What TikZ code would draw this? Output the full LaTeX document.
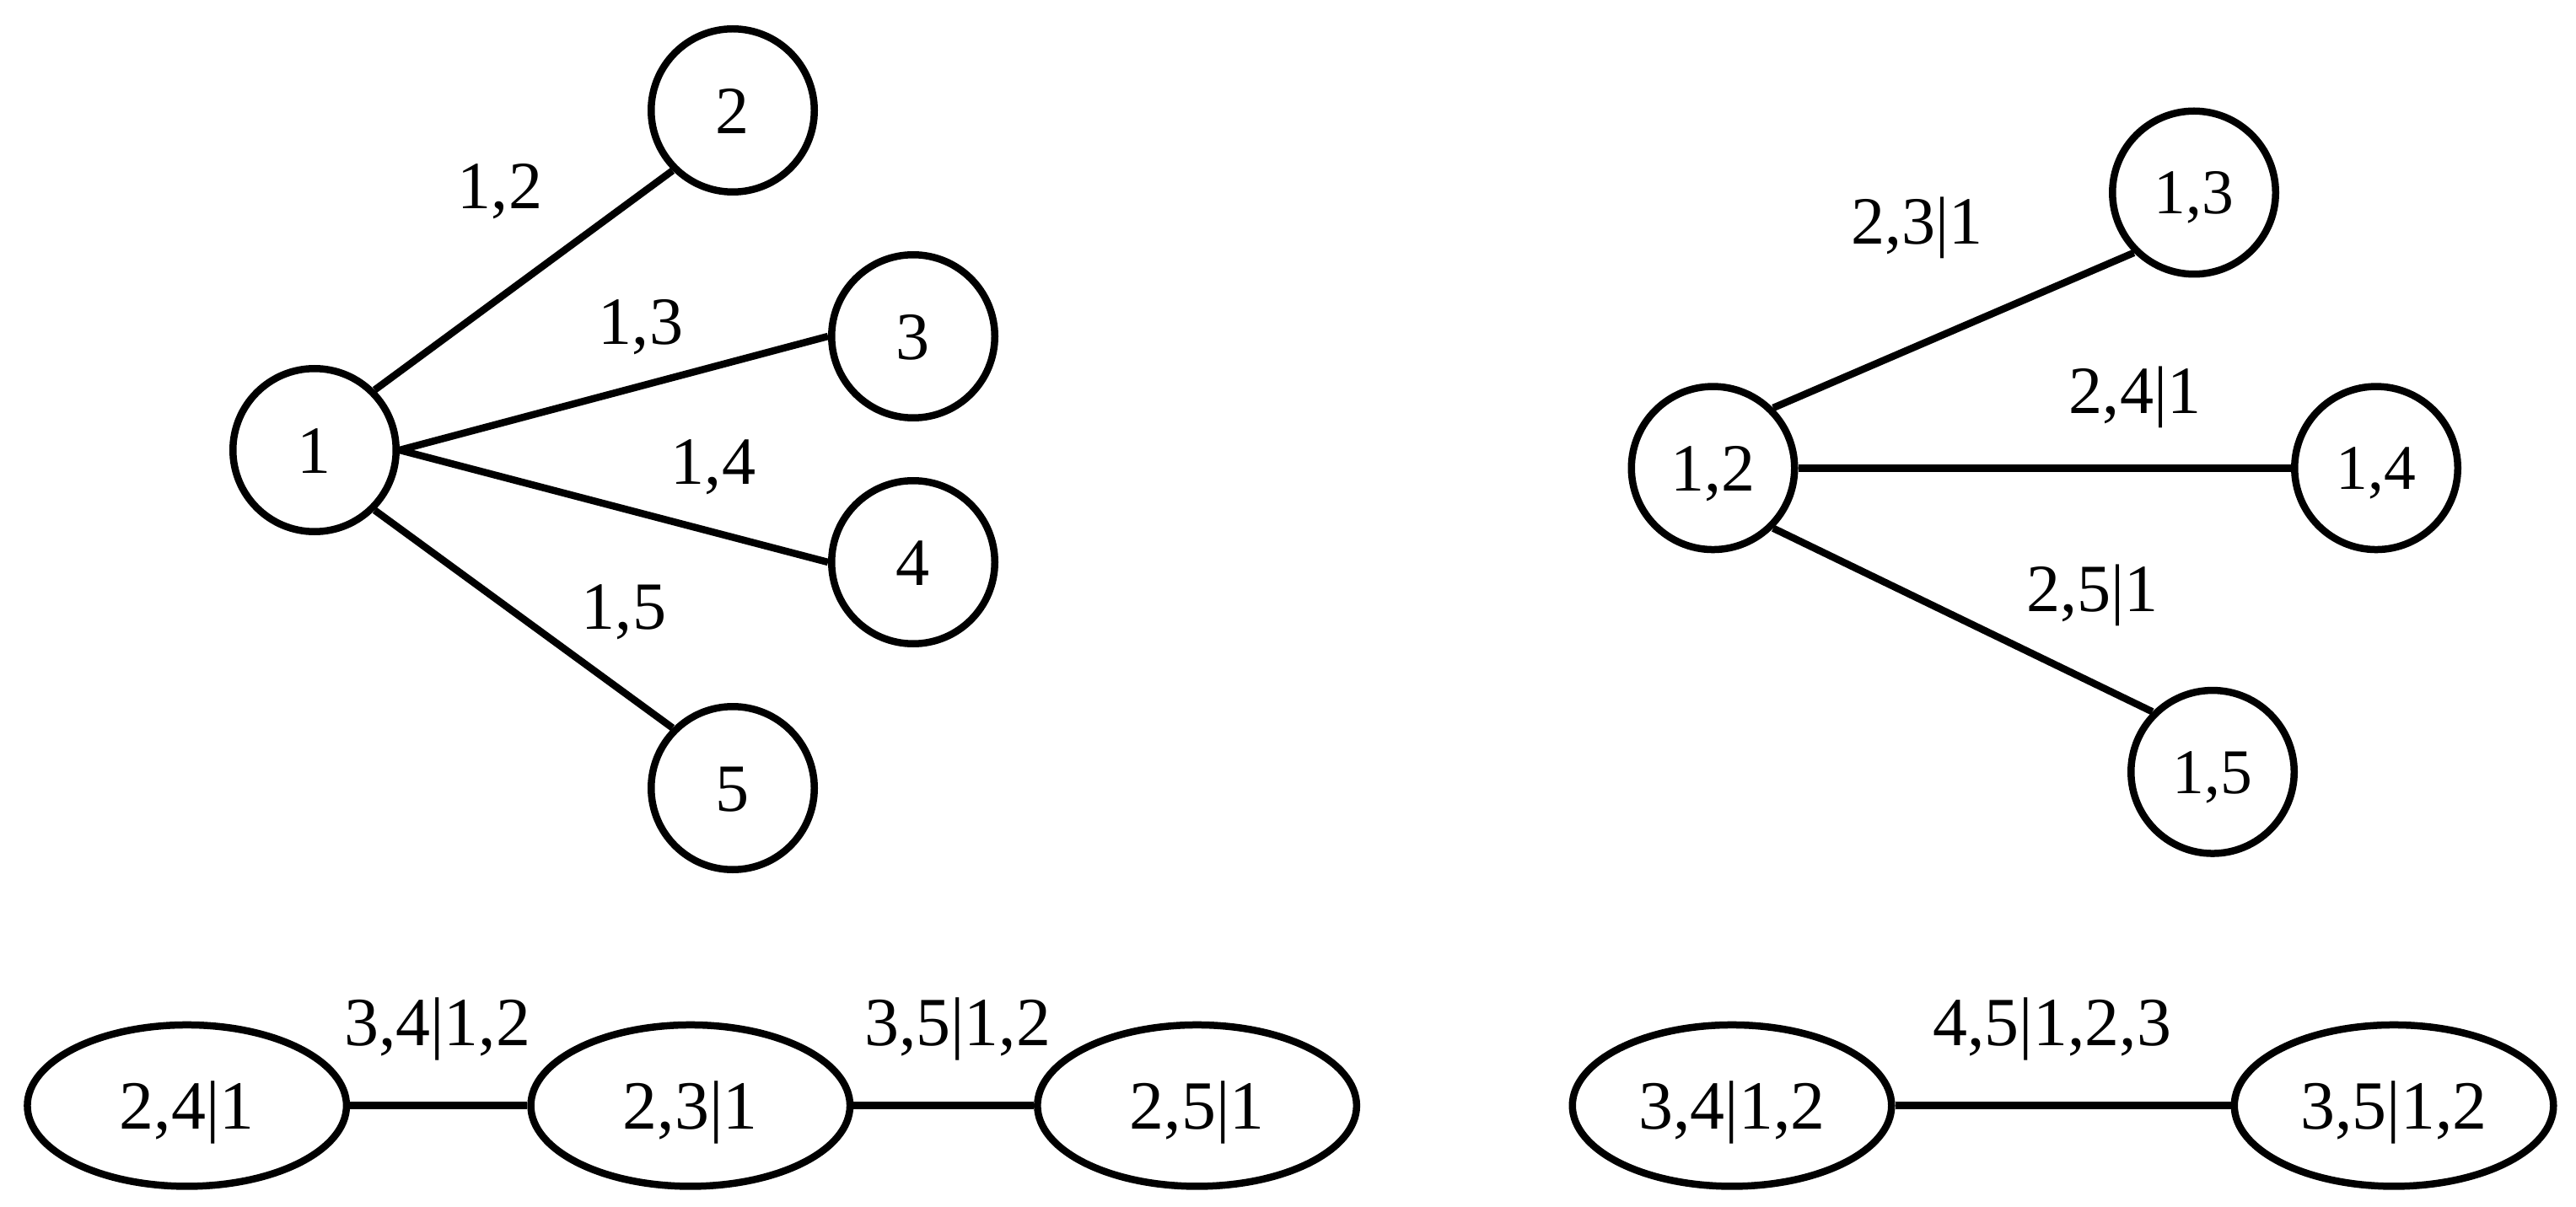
\documentclass[tikz,border=0pt]{standalone}
\usepackage{fontspec}
\setmainfont{Liberation Serif}
\usetikzlibrary{shapes.geometric}
\begin{document}
\begin{tikzpicture}[
  cnode/.style={circle, draw, line width=0.085cm, minimum size=1.935cm, inner sep=0pt,
    text height=15.4pt, text depth=0pt, font=\fontsize{22.8}{27}\selectfont},
  snode/.style={cnode, text height=14.5pt, font=\fontsize{21.5}{26}\selectfont},
  enode/.style={ellipse, draw, line width=0.085cm, minimum width=3.785cm, minimum height=1.915cm,
    inner sep=0pt, text height=15.7pt, text depth=0pt, font=\fontsize{23.3}{28}\selectfont},
  elabel/.style={anchor=base, inner sep=0pt, font=\fontsize{22.8}{27}\selectfont},
  blabel/.style={elabel, font=\fontsize{23.3}{28}\selectfont},
  edge/.style={line width=0.085cm}
]
\useasboundingbox (0,0) rectangle (30.55,14.31);

% left tree
\node[cnode] (n1) at (3.73,8.97) {1};
\node[cnode] (n2) at (8.69,13.00) {2};
\node[cnode] (n3) at (10.83,10.32) {3};
\node[cnode] (n4) at (10.83,7.64) {4};
\node[cnode] (n5) at (8.69,4.96) {5};
\draw[edge] (n1.north east) -- (n2.south west);
\draw[edge] (n1.east) -- (n3.west);
\draw[edge] (n1.east) -- (n4.west);
\draw[edge] (n1.south east) -- (n5.north west);
\node[elabel] (l12) at (5.93,11.836) {1,2};
\node[elabel] (l13) at (7.60,10.228) {1,3};
\node[elabel] (l14) at (8.46,8.57) {1,4};
\node[elabel] (l15) at (7.40,6.848) {1,5};

% right tree
\node[cnode] (m12) at (20.315,8.757) {1,2};
\node[snode] (m13) at (26.02,12.025) {1,3};
\node[snode] (m14) at (28.18,8.757) {1,4};
\node[snode] (m15) at (26.24,5.152) {1,5};
\draw[edge] (m12.north east) -- (m13.south west);
\draw[edge] (m12.east) -- (m14.west);
\draw[edge] (m12.south east) -- (m15.north west);
\node[elabel] (k23) at (22.737,11.415) {2,3|1};
\node[elabel] (k24) at (25.32,9.406) {2,4|1};
\node[elabel] (k25) at (24.815,7.052) {2,5|1};

% bottom left chain
\node[enode] (e1) at (2.217,1.193) {2,4|1};
\node[enode] (e2) at (8.188,1.193) {2,3|1};
\node[enode] (e3) at (14.196,1.193) {2,5|1};
\draw[edge] (e1) -- (e2);
\draw[edge] (e2) -- (e3);
\node[blabel] (b34) at (5.188,1.903) {3,4|1,2};
\node[blabel] (b35) at (11.357,1.903) {3,5|1,2};

% bottom right chain
\node[enode] (e4) at (20.54,1.193) {3,4|1,2};
\node[enode] (e5) at (28.39,1.193) {3,5|1,2};
\draw[edge] (e4) -- (e5);
\node[blabel] (b45) at (24.338,1.903) {4,5|1,2,3};
\end{tikzpicture}
\end{document}
